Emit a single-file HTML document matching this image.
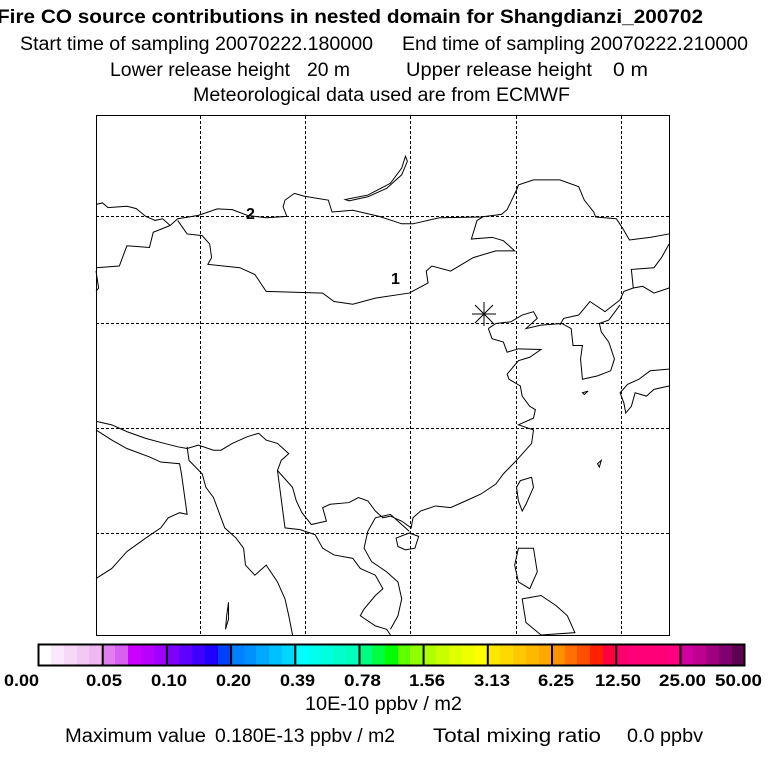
<!DOCTYPE html>
<html><head><style>
body{margin:0;background:#fff;width:768px;height:768px;overflow:hidden;position:relative;font-family:"Liberation Sans",sans-serif}
</style></head><body>
<div style="position:absolute;left:38px;top:644px;width:706px;height:21px;display:flex" id="bar"></div>
<svg style="position:absolute;left:0;top:0" width="768" height="768">
<g font-family="Liberation Sans" font-size="19">
<text x="-3" y="23" font-weight="bold" textLength="706" lengthAdjust="spacingAndGlyphs">Fire CO source contributions in nested domain for Shangdianzi_200702</text>
<text x="20" y="50" textLength="353" lengthAdjust="spacingAndGlyphs">Start time of sampling 20070222.180000</text>
<text x="402" y="50" textLength="346" lengthAdjust="spacingAndGlyphs">End time of sampling 20070222.210000</text>
<text x="110" y="76" textLength="180" lengthAdjust="spacingAndGlyphs">Lower release height</text>
<text x="307" y="76" textLength="43" lengthAdjust="spacingAndGlyphs">20 m</text>
<text x="406" y="76" textLength="186" lengthAdjust="spacingAndGlyphs">Upper release height</text>
<text x="613" y="76" textLength="35" lengthAdjust="spacingAndGlyphs">0 m</text>
<text x="193" y="101" textLength="377" lengthAdjust="spacingAndGlyphs">Meteorological data used are from ECMWF</text>
<text x="305" y="710" textLength="157" lengthAdjust="spacingAndGlyphs">10E-10 ppbv / m2</text>
<text x="65" y="742" textLength="141" lengthAdjust="spacingAndGlyphs">Maximum value</text>
<text x="215" y="742" textLength="180" lengthAdjust="spacingAndGlyphs">0.180E-13 ppbv / m2</text>
<text x="433" y="742" textLength="168" lengthAdjust="spacingAndGlyphs">Total mixing ratio</text>
<text x="627" y="742" textLength="76" lengthAdjust="spacingAndGlyphs">0.0 ppbv</text>
</g>
<g fill="none" stroke="#000" stroke-width="1">
<rect x="96.5" y="115.5" width="573" height="520"/>
<g stroke-dasharray="3,2">
<path d="M200.5 116V635M305.5 116V635M410.5 116V635M516.5 116V635M621.5 116V635M96 216.5H669M96 323.5H669M96 428.5H669M96 533.5H669"/>
</g>
<g transform="translate(96,115) scale(0.3765,0.3379) translate(-18,-18)">
<path vector-effect="non-scaling-stroke" d="M18,283 L35,278 50,292 100,288 125,295 150,318 175,330 195,325 215,345 235,325 290,315 340,296 380,298 420,315 470,322 525,318 515,290 520,270 545,250 570,258 635,270 645,305 700,300 770,318 830,340 860,340 930,322 1040,320 1095,312 1110,298 1120,275 1135,240 1140,225 1180,210 1250,210 1300,230 1315,270 1340,305 1345,320 1400,325 1415,350 1435,388 1490,380 1540,370"/>
<path vector-effect="non-scaling-stroke" d="M235,330 L260,370 300,375 320,400 325,440 315,460 400,470 440,490 470,540 620,545 650,570 700,578 760,560 850,545 900,515 895,480 910,465 960,480 1020,440 1080,420 1130,420 1100,390 1070,380 1015,385 1030,330 1045,320"/>
<path vector-effect="non-scaling-stroke" d="M215,345 L170,365 160,410 100,405 80,465 18,470 M18,480 L25,530 18,540"/>
<path vector-effect="non-scaling-stroke" d="M1540,400 L1520,440 1500,470 1440,475 1445,530 1420,540 1410,565 1370,600 1330,570 1300,610 1260,620 1250,640 M1540,530 L1500,545 1470,525 1445,530"/>
<path vector-effect="non-scaling-stroke" d="M1060,650 L1070,680 1100,690 1110,720 1140,710 1200,712 1170,735 1140,745 1110,785 1115,800 1145,820 1150,850 1170,880 1185,890 1180,915 1140,935 1180,950 1175,990 1135,1040 1100,1080 1080,1110 1040,1140 1000,1160 960,1180 920,1175 880,1190 860,1210 855,1240 830,1220 800,1205 780,1210 760,1190 740,1160 715,1150 690,1165 640,1170 620,1180 630,1220 590,1230 565,1195 550,1160 540,1120 500,1070 510,1040 530,1020 500,990 470,980 450,960 420,970 380,990 350,1010 330,1010 290,995 260,1005 235,1000 200,990 150,975 100,955 60,935 20,925"/>
<path vector-effect="non-scaling-stroke" d="M1060,650 L1080,635 1120,630 1150,610 1180,600 1190,620 1160,650 1200,640 1255,635 1280,650 1285,700 1310,700 1305,740 1310,800 1350,790 1385,775 1395,740 1380,690 1360,660 1355,635 1380,625 1410,580"/>
<path vector-effect="non-scaling-stroke" d="M18,950 L60,980 100,1005 160,1030 190,1045 240,1050 245,1080 250,1120 255,1160 260,1200 240,1195 210,1210 190,1240 150,1270 100,1310 60,1360 18,1390"/>
<path vector-effect="non-scaling-stroke" d="M260,1000 L265,1040 300,1080 310,1120 330,1150 340,1180 350,1210 360,1240 390,1270 410,1300 415,1350 440,1380 470,1350 500,1400 520,1450 530,1500 540,1557"/>
<path vector-effect="non-scaling-stroke" d="M500,1070 L520,1240 560,1245 600,1260 620,1300 650,1320 700,1330 720,1360 760,1380 780,1420 760,1440 730,1480 720,1500 760,1530 790,1540 800,1557"/>
<path vector-effect="non-scaling-stroke" d="M850,1250 L800,1200 760,1210 740,1250 730,1300 750,1340 790,1370 820,1400 830,1450 820,1500 800,1540"/>
<path vector-effect="non-scaling-stroke" d="M815,1270 L850,1255 875,1265 865,1300 840,1305 820,1295Z"/>
<path vector-effect="non-scaling-stroke" d="M1145,1100 L1175,1090 1180,1120 1160,1170 1150,1190 1140,1160 1135,1120Z"/>
<path vector-effect="non-scaling-stroke" d="M1540,770 L1490,775 1460,800 1430,815 1410,840 1420,870 1425,900 1440,880 1450,840 1480,850 1500,830 1540,820"/>
<path vector-effect="non-scaling-stroke" d="M1140,1300 L1180,1300 1190,1370 1170,1420 1140,1400 1130,1350Z M1150,1450 L1200,1440 1240,1470 1270,1500 1290,1550 1200,1557 1160,1520Z"/>
<path vector-effect="non-scaling-stroke" d="M680,268 L740,255 800,220 830,175 840,140 845,155 830,195 790,235 740,260 690,272Z"/>
<path vector-effect="non-scaling-stroke" d="M370,1460 L365,1500 362,1540 370,1510Z M1310,840 L1325,835 1315,845Z M1350,1050 L1360,1040 1355,1060Z"/>
</g>
<path d="M472 314H496M484 302V326M475 305L493 323M493 305L475 323"/>
</g>
<text x="391" y="284" font-family="Liberation Sans" font-size="16" font-weight="bold">1</text>
<text x="246" y="219" font-family="Liberation Sans" font-size="16" font-weight="bold">2</text>
<rect x="38.5" y="644.5" width="706" height="21" fill="none" stroke="#000" stroke-width="2"/>
<path d="M102.7 644V666M166.9 644V666M231.1 644V666M295.3 644V666M359.5 644V666M423.6 644V666M487.8 644V666M552 644V666M616.2 644V666M680.4 644V666" stroke="#000" stroke-width="2"/>
<g font-family="Liberation Sans" font-size="17" font-weight="bold">
<text x="4" y="686" textLength="35" lengthAdjust="spacingAndGlyphs">0.00</text>
<text x="86" y="686" textLength="36" lengthAdjust="spacingAndGlyphs">0.05</text>
<text x="151" y="686" textLength="36" lengthAdjust="spacingAndGlyphs">0.10</text>
<text x="216" y="686" textLength="35" lengthAdjust="spacingAndGlyphs">0.20</text>
<text x="280" y="686" textLength="35" lengthAdjust="spacingAndGlyphs">0.39</text>
<text x="344" y="686" textLength="37" lengthAdjust="spacingAndGlyphs">0.78</text>
<text x="409" y="686" textLength="36" lengthAdjust="spacingAndGlyphs">1.56</text>
<text x="474" y="686" textLength="36" lengthAdjust="spacingAndGlyphs">3.13</text>
<text x="538" y="686" textLength="36" lengthAdjust="spacingAndGlyphs">6.25</text>
<text x="595" y="686" textLength="46" lengthAdjust="spacingAndGlyphs">12.50</text>
<text x="659" y="686" textLength="47" lengthAdjust="spacingAndGlyphs">25.00</text>
<text x="715" y="686" textLength="47" lengthAdjust="spacingAndGlyphs">50.00</text>
</g>
</svg>
<script>
var c=[["#fff","#fce8fc","#f8d8f8","#f4c8f4","#f0b8f0"],["#e080f0","#d860f0","#cc00ff","#b800ff","#a000ff"],["#8000ff","#6000ff","#4000ff","#2000ff","#0040ff"],["#0080ff","#0090ff","#00a8ff","#00c0ff","#00d8ff"],["#00ffff","#00ffee","#00ffdd","#00ffcc","#00ffbb"],["#00ff80","#00ff40","#00ff00","#60ff00","#90ff00"],["#b0ff00","#c8ff00","#e0ff00","#f0ff00","#ffff00"],["#ffe800","#ffd800","#ffc800","#ffb800","#ffa800"],["#ff9000","#ff7000","#ff5000","#ff2000","#ff0040"],["#ff0070","#ff0078","#ff0078","#ff0078","#ff0080"],["#d000a0","#c00090","#a00080","#800070","#600050"]];
var b=document.getElementById("bar");c.forEach(function(s){s.forEach(function(x){var d=document.createElement("div");d.style.flex="1";d.style.background=x;b.appendChild(d);});});
</script>
</body></html>
